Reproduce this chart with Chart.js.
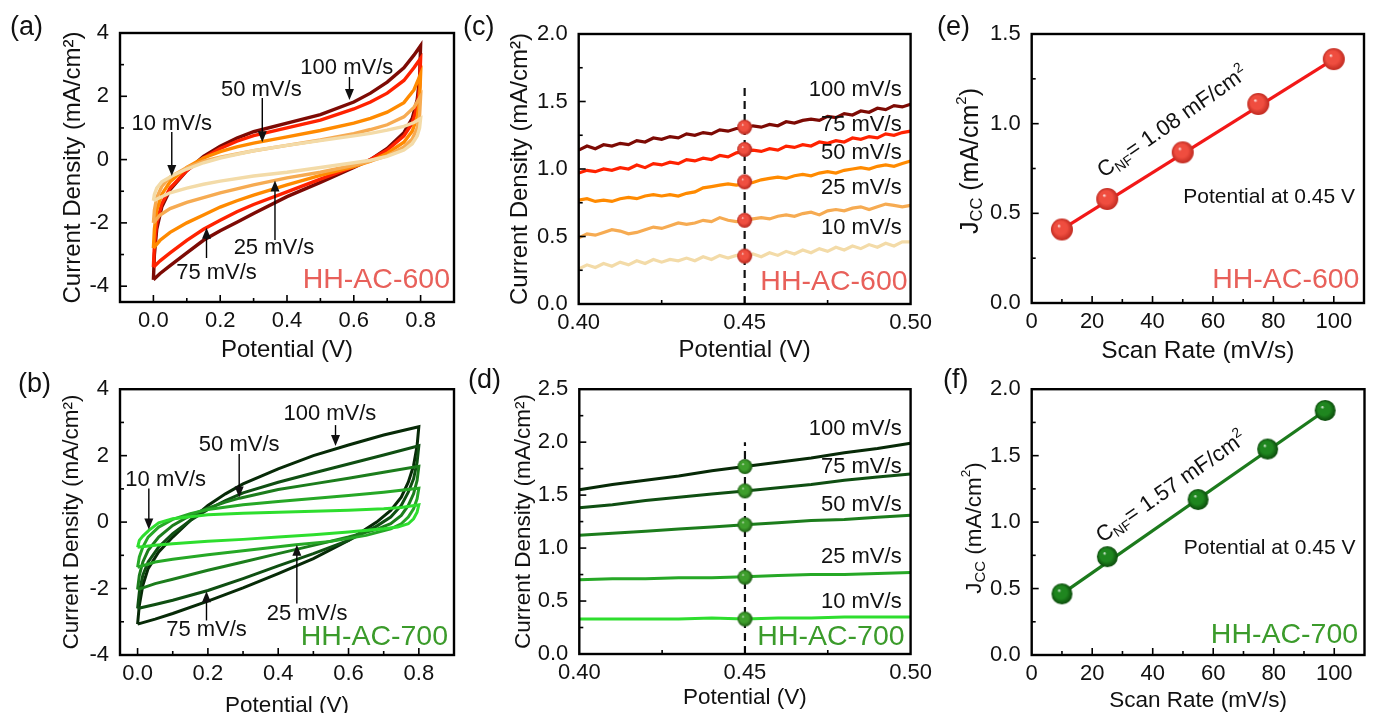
<!DOCTYPE html>
<html>
<head>
<meta charset="utf-8">
<script src="https://cdn.jsdelivr.net/npm/chart.js@4.4.1/dist/chart.umd.min.js"></script>
<style>
html, body { margin: 0; padding: 0; background: #fff; overflow: hidden; width: 1376px; height: 713px; }
canvas { position: absolute; }
</style>
</head>
<body>
<canvas id="pa"></canvas>
<canvas id="pb"></canvas>
<canvas id="pc"></canvas>
<canvas id="pd"></canvas>
<canvas id="pe"></canvas>
<canvas id="pf"></canvas>
<script>
const FONT = "'Liberation Sans', Arial, Helvetica, sans-serif";

// ---- data ----
const rateLabels = ["100 mV/s", "75 mV/s", "50 mV/s", "25 mV/s", "10 mV/s"];
const redShades = ["#7d0a04", "#ff2200", "#ff8a00", "#f6ab52", "#f3dba8"];
const greenShades = ["#072a07", "#0f4f12", "#1c7d1c", "#26a826", "#2ede2e"];

// (a) CV loops, HH-AC-600 : [potential V, current mA/cm2]
const cvA_100 = [[0.000,-3.80],[0.003,-3.00],[0.010,-2.20],[0.025,-1.50],[0.050,-0.95],[0.100,-0.35],[0.150,0.10],[0.200,0.42],[0.250,0.68],[0.300,0.88],[0.400,1.15],[0.500,1.42],[0.600,1.82],[0.650,2.10],[0.700,2.45],[0.750,2.90],[0.780,3.30],[0.800,3.60],
  [0.797,2.60],[0.790,1.90],[0.775,1.30],[0.750,0.85],[0.700,0.35],[0.650,0.00],[0.600,-0.25],[0.500,-0.72],[0.400,-1.17],[0.300,-1.70],[0.250,-1.98],[0.200,-2.25],[0.150,-2.55],[0.100,-2.95],[0.050,-3.35],[0.020,-3.60],[0.000,-3.80]];
const cvA_75 = [[0.000,-3.40],[0.003,-2.70],[0.010,-2.00],[0.025,-1.40],[0.050,-0.90],[0.100,-0.35],[0.150,0.05],[0.200,0.35],[0.250,0.58],[0.300,0.76],[0.400,1.00],[0.500,1.25],[0.600,1.60],[0.650,1.82],[0.700,2.10],[0.750,2.50],[0.780,2.90],[0.800,3.20],
  [0.797,2.30],[0.790,1.70],[0.775,1.15],[0.750,0.75],[0.700,0.30],[0.650,0.00],[0.600,-0.22],[0.500,-0.62],[0.400,-1.02],[0.300,-1.42],[0.250,-1.65],[0.200,-1.92],[0.150,-2.20],[0.100,-2.55],[0.050,-2.95],[0.020,-3.20],[0.000,-3.40]];
const cvA_50 = [[0.000,-2.80],[0.003,-2.20],[0.010,-1.60],[0.025,-1.10],[0.050,-0.70],[0.100,-0.25],[0.150,0.05],[0.200,0.25],[0.250,0.40],[0.300,0.52],[0.400,0.72],[0.500,0.92],[0.600,1.15],[0.650,1.30],[0.700,1.50],[0.750,1.80],[0.780,2.20],[0.800,2.70],
  [0.797,1.90],[0.790,1.35],[0.775,0.90],[0.750,0.55],[0.700,0.20],[0.650,-0.05],[0.600,-0.22],[0.500,-0.50],[0.400,-0.80],[0.300,-1.12],[0.250,-1.30],[0.200,-1.50],[0.150,-1.75],[0.100,-2.00],[0.050,-2.30],[0.020,-2.55],[0.000,-2.80]];
const cvA_25 = [[0.000,-2.00],[0.003,-1.60],[0.010,-1.20],[0.025,-0.85],[0.050,-0.55],[0.100,-0.25],[0.150,-0.05],[0.200,0.08],[0.300,0.28],[0.400,0.45],[0.500,0.62],[0.600,0.82],[0.650,0.95],[0.700,1.10],[0.750,1.35],[0.780,1.65],[0.800,2.00],
  [0.797,1.40],[0.790,1.00],[0.775,0.65],[0.750,0.40],[0.700,0.12],[0.650,-0.05],[0.600,-0.18],[0.500,-0.40],[0.400,-0.58],[0.300,-0.80],[0.200,-1.05],[0.150,-1.20],[0.100,-1.35],[0.050,-1.55],[0.020,-1.75],[0.000,-2.00]];
const cvA_10 = [[0.000,-1.30],[0.003,-1.10],[0.010,-0.90],[0.025,-0.70],[0.055,-0.52],[0.100,-0.30],[0.150,-0.10],[0.200,0.05],[0.300,0.28],[0.400,0.45],[0.500,0.60],[0.600,0.75],[0.650,0.83],[0.700,0.93],[0.750,1.05],[0.780,1.17],[0.800,1.30],
  [0.797,1.00],[0.790,0.75],[0.775,0.50],[0.750,0.30],[0.700,0.10],[0.650,-0.02],[0.600,-0.10],[0.500,-0.25],[0.400,-0.40],[0.300,-0.52],[0.200,-0.68],[0.150,-0.78],[0.100,-0.90],[0.050,-1.05],[0.020,-1.20],[0.000,-1.30]];

// (b) CV loops, HH-AC-700
const cvB_100 = [[0.000,-3.07],[0.005,-2.50],[0.015,-1.90],[0.030,-1.40],[0.060,-0.90],[0.100,-0.45],[0.150,0.05],[0.200,0.50],[0.250,0.85],[0.300,1.15],[0.400,1.60],[0.500,2.00],[0.600,2.32],[0.700,2.62],[0.800,2.87],
  [0.795,2.30],[0.785,1.70],[0.770,1.20],[0.750,0.75],[0.720,0.35],[0.680,0.00],[0.600,-0.55],[0.500,-1.10],[0.400,-1.55],[0.300,-1.98],[0.200,-2.38],[0.100,-2.75],[0.050,-2.92],[0.000,-3.07]];
const cvB_75 = [[0.000,-2.60],[0.005,-2.10],[0.015,-1.60],[0.030,-1.20],[0.060,-0.75],[0.100,-0.35],[0.150,0.05],[0.200,0.38],[0.250,0.65],[0.300,0.88],[0.400,1.20],[0.500,1.48],[0.600,1.75],[0.700,2.02],[0.800,2.30],
  [0.795,1.80],[0.785,1.30],[0.770,0.90],[0.750,0.50],[0.720,0.15],[0.680,-0.12],[0.600,-0.55],[0.500,-0.95],[0.400,-1.32],[0.300,-1.70],[0.200,-2.06],[0.100,-2.35],[0.050,-2.48],[0.000,-2.60]];
const cvB_50 = [[0.000,-2.03],[0.005,-1.60],[0.015,-1.20],[0.030,-0.85],[0.060,-0.45],[0.100,-0.10],[0.150,0.20],[0.200,0.42],[0.250,0.60],[0.290,0.72],[0.400,0.98],[0.500,1.15],[0.600,1.32],[0.700,1.50],[0.800,1.68],
  [0.795,1.25],[0.785,0.85],[0.770,0.50],[0.750,0.20],[0.720,-0.05],[0.680,-0.22],[0.600,-0.45],[0.500,-0.70],[0.400,-0.95],[0.300,-1.20],[0.200,-1.45],[0.100,-1.72],[0.050,-1.85],[0.000,-2.03]];
const cvB_25 = [[0.000,-1.36],[0.005,-1.05],[0.015,-0.75],[0.030,-0.45],[0.060,-0.15],[0.100,0.08],[0.150,0.25],[0.200,0.38],[0.300,0.52],[0.400,0.62],[0.500,0.71],[0.600,0.80],[0.700,0.90],[0.800,1.02],
  [0.795,0.70],[0.785,0.40],[0.770,0.15],[0.750,-0.05],[0.720,-0.20],[0.650,-0.40],[0.550,-0.58],[0.450,-0.68],[0.400,-0.74],[0.300,-0.86],[0.200,-0.98],[0.100,-1.12],[0.050,-1.20],[0.000,-1.36]];
const cvB_10 = [[0.000,-0.76],[0.005,-0.55],[0.015,-0.42],[0.032,-0.25],[0.060,-0.02],[0.100,0.10],[0.200,0.22],[0.300,0.27],[0.400,0.30],[0.500,0.33],[0.600,0.36],[0.700,0.40],[0.750,0.44],[0.800,0.52],
  [0.795,0.30],[0.785,0.10],[0.770,-0.05],[0.740,-0.15],[0.700,-0.20],[0.600,-0.30],[0.500,-0.38],[0.400,-0.45],[0.300,-0.52],[0.200,-0.58],[0.100,-0.65],[0.050,-0.70],[0.000,-0.76]];

// (c) zoomed currents, HH-AC-600
const potC = [0.4000,0.4025,0.4050,0.4075,0.4100,0.4125,0.4150,0.4175,0.4200,0.4225,0.4250,0.4275,0.4300,0.4325,0.4350,0.4375,0.4400,0.4425,0.4450,0.4475,0.4500,
  0.4525,0.4550,0.4575,0.4600,0.4625,0.4650,0.4675,0.4700,0.4725,0.4750,0.4775,0.4800,0.4825,0.4850,0.4875,0.4900,0.4925,0.4950,0.4975,0.5000];
const c100 = [1.14,1.17,1.15,1.18,1.17,1.19,1.18,1.21,1.20,1.23,1.22,1.24,1.23,1.26,1.25,1.27,1.26,1.29,1.28,1.30,1.30,1.32,1.31,1.33,1.32,1.35,1.34,1.36,1.37,1.36,1.39,1.38,1.41,1.40,1.43,1.42,1.45,1.44,1.47,1.46,1.48];
const c75 = [0.97,0.99,0.98,1.00,0.99,1.01,1.00,1.03,1.01,1.04,1.03,1.05,1.04,1.07,1.06,1.08,1.07,1.10,1.09,1.12,1.13,1.14,1.13,1.15,1.14,1.17,1.16,1.18,1.17,1.20,1.19,1.21,1.20,1.23,1.22,1.24,1.23,1.26,1.25,1.27,1.28];
const c50 = [0.77,0.78,0.76,0.77,0.76,0.78,0.79,0.78,0.80,0.81,0.80,0.81,0.80,0.82,0.83,0.86,0.87,0.88,0.89,0.88,0.89,0.90,0.92,0.93,0.94,0.93,0.95,0.96,0.95,0.97,0.98,0.97,0.99,1.00,1.01,1.00,1.02,1.03,1.02,1.04,1.06];
const c25 = [0.49,0.52,0.51,0.53,0.55,0.54,0.52,0.53,0.55,0.57,0.56,0.58,0.60,0.59,0.60,0.62,0.61,0.64,0.62,0.61,0.62,0.63,0.64,0.63,0.65,0.66,0.65,0.67,0.68,0.66,0.69,0.70,0.69,0.71,0.72,0.70,0.72,0.74,0.73,0.72,0.73];
const c10 = [0.26,0.29,0.27,0.30,0.28,0.31,0.29,0.32,0.30,0.33,0.31,0.33,0.32,0.34,0.32,0.35,0.33,0.36,0.34,0.36,0.35,0.37,0.35,0.38,0.36,0.39,0.37,0.40,0.38,0.41,0.39,0.42,0.40,0.43,0.41,0.44,0.42,0.45,0.43,0.46,0.46];
const markC = [1.31, 1.145, 0.905, 0.62, 0.355];
const rateYC = [1.585, 1.326, 1.119, 0.859, 0.563];

// (d) zoomed currents, HH-AC-700
const potD = [0.40,0.41,0.42,0.43,0.44,0.45,0.46,0.47,0.48,0.49,0.50];
const d100 = [1.55,1.60,1.64,1.68,1.73,1.77,1.81,1.85,1.90,1.94,1.99];
const d75 = [1.38,1.41,1.45,1.48,1.51,1.54,1.57,1.60,1.64,1.67,1.70];
const d50 = [1.12,1.14,1.16,1.18,1.20,1.22,1.24,1.26,1.27,1.29,1.31];
const d25 = [0.70,0.71,0.71,0.72,0.72,0.73,0.74,0.75,0.75,0.76,0.77];
const d10 = [0.33,0.33,0.33,0.33,0.34,0.33,0.34,0.34,0.35,0.35,0.35];
const markD = [1.77, 1.54, 1.22, 0.725, 0.33];
const rateYD = [2.123, 1.77, 1.41, 0.918, 0.492];
const markPotential = 0.45;

// (e),(f) Jcc vs scan rate
const scanE = [10, 25, 50, 75, 100];
const jccE = [0.41, 0.58, 0.84, 1.11, 1.36];
const fitE = [[10, 0.41], [100, 1.36]];
const scanF = [10, 25, 55, 78, 97];
const jccF = [0.46, 0.74, 1.17, 1.55, 1.84];
const fitF = [[10, 0.46], [97, 1.84]];

// arrowed labels on the CV panels (data coords)
const notesA = [
  { text: "100 mV/s", x: 0.579, y: 2.89, ax: 0.587, y0: 2.61, y1: 1.88 },
  { text: "50 mV/s", x: 0.323, y: 2.20, ax: 0.326, y0: 1.95, y1: 0.55 },
  { text: "10 mV/s", x: 0.055, y: 1.12, ax: 0.055, y0: 0.87, y1: -0.52 },
  { text: "25 mV/s", x: 0.361, y: -2.79, ax: 0.364, y0: -2.54, y1: -0.66 },
  { text: "75 mV/s", x: 0.189, y: -3.58, ax: 0.159, y0: -3.11, y1: -2.15 }
];
const notesB = [
  { text: "100 mV/s", x: 0.547, y: 3.25, ax: 0.563, y0: 2.92, y1: 2.29 },
  { text: "50 mV/s", x: 0.289, y: 2.32, ax: 0.289, y0: 2.05, y1: 0.74 },
  { text: "10 mV/s", x: 0.080, y: 1.28, ax: 0.032, y0: 1.01, y1: -0.22 },
  { text: "25 mV/s", x: 0.482, y: -2.75, ax: 0.453, y0: -2.45, y1: -0.68 },
  { text: "75 mV/s", x: 0.196, y: -3.25, ax: 0.196, y0: -2.96, y1: -2.08 }
];

// ---- helpers ----
const makeBall = (r, base, edge) => {
  const c = document.createElement("canvas");
  c.width = c.height = 2 * r + 2;
  const g = c.getContext("2d");
  const m = r + 1;
  const grad = g.createRadialGradient(m - r * 0.3, m - r * 0.35, 0, m, m, r);
  grad.addColorStop(0, "#ffffff");
  grad.addColorStop(0.18, base);
  grad.addColorStop(0.6, base);
  grad.addColorStop(1, edge);
  g.fillStyle = grad;
  g.beginPath();
  g.arc(m, m, r, 0, Math.PI * 2);
  g.fill();
  return c;
};

const toXY = (pts) => pts.map(p => ({ x: p[0], y: p[1] }));
const zipXY = (xs, ys) => xs.map((x, i) => ({ x: x, y: ys[i] }));

const lineSet = (data, color, w) => ({
  data: data, showLine: true, borderColor: color, borderWidth: w,
  pointRadius: 0, tension: 0, fill: false
});

const drawSegs = (ctx, segs, x, y, rot, align) => {
  ctx.save();
  ctx.translate(x, y);
  ctx.rotate(rot);
  let total = 0;
  segs.forEach(s => { ctx.font = s.size + "px " + FONT; total += ctx.measureText(s.t).width; });
  let cx = align === "center" ? -total / 2 : 0;
  segs.forEach(s => {
    ctx.font = s.size + "px " + FONT;
    ctx.fillText(s.t, cx, s.dy || 0);
    cx += ctx.measureText(s.t).width;
  });
  ctx.restore();
};

const decoPlugin = (d) => ({
  id: "deco",
  afterDraw(chart) {
    const ctx = chart.ctx, a = chart.chartArea;
    const sx = chart.scales.x, sy = chart.scales.y;
    const px = v => sx.getPixelForValue(v), py = v => sy.getPixelForValue(v);
    ctx.save();
    ctx.strokeStyle = "#000";
    ctx.lineWidth = 1.6;
    sx.ticks.forEach(t => {
      const p = px(t.value);
      if (p <= a.left + 1 || p >= a.right - 1) return;
      const len = t.label ? 7 : 4;
      ctx.beginPath(); ctx.moveTo(p, a.bottom); ctx.lineTo(p, a.bottom - len); ctx.stroke();
    });
    sy.ticks.forEach(t => {
      const p = py(t.value);
      if (p <= a.top + 1 || p >= a.bottom - 1) return;
      const len = t.label ? 7 : 4;
      ctx.beginPath(); ctx.moveTo(a.left, p); ctx.lineTo(a.left + len, p); ctx.stroke();
    });
    ctx.lineWidth = 2.4;
    ctx.strokeRect(a.left, a.top, a.right - a.left, a.bottom - a.top);

    ctx.fillStyle = "#111";
    ctx.textBaseline = "middle";
    ctx.textAlign = "left";
    ctx.font = "27px " + FONT;
    ctx.fillText(d.panel[0], d.panel[1], d.panel[2]);

    ctx.font = "22px " + FONT;
    (d.notes || []).forEach(n => {
      ctx.textAlign = "center";
      ctx.fillText(n.text, px(n.x), py(n.y));
      const x = px(n.ax), y0 = py(n.y0), y1 = py(n.y1);
      const dir = y1 > y0 ? 1 : -1;
      ctx.lineWidth = 1.4;
      ctx.beginPath(); ctx.moveTo(x, y0); ctx.lineTo(x, y1 - dir * 8); ctx.stroke();
      ctx.beginPath(); ctx.moveTo(x, y1); ctx.lineTo(x - 4.5, y1 - dir * 11); ctx.lineTo(x + 4.5, y1 - dir * 11); ctx.closePath(); ctx.fill();
    });
    if (d.rates) {
      ctx.textAlign = "right";
      d.rates.ys.forEach((y, i) => ctx.fillText(rateLabels[i], px(d.rates.x), py(y)));
    }
    if (d.extra) d.extra(ctx, px, py, a);

    ctx.textAlign = "right";
    ctx.fillStyle = d.tag.color;
    ctx.font = "28.5px " + FONT;
    ctx.fillText(d.tag.text, px(d.tag.x), py(d.tag.y));
    ctx.restore();
  }
});

const buildPanel = (id, box, datasets, xs, ys, deco) => {
  const cv = document.getElementById(id);
  const hy = box.ySize * 0.6, hx = box.xSize * 0.6;
  const padLeft = ys.title ? box.yTitleX - hy - box.left : 0;
  const w = Math.round(box.plot[2] - box.left + box.padR);
  const h = Math.round(box.xTitleY + hx - box.top);
  cv.width = w; cv.height = h;
  cv.style.left = box.left + "px";
  cv.style.top = box.top + "px";
  const yW = box.plot[0] - box.left - padLeft;
  const xH = h - (box.plot[3] - box.top);
  const tickFont = { family: FONT, size: 22, lineHeight: 1.2 };
  new Chart(cv, {
    type: "scatter",
    data: { datasets: datasets },
    options: {
      responsive: false,
      animation: false,
      devicePixelRatio: 1,
      layout: { padding: { left: padLeft, top: box.plot[1] - box.top, right: box.padR, bottom: 0 } },
      plugins: { legend: { display: false }, tooltip: { enabled: false } },
      scales: {
        x: {
          type: "linear", min: xs.min, max: xs.max,
          afterFit: s => { s.height = xH; },
          grid: { display: false, drawTicks: false },
          border: { display: false },
          ticks: { stepSize: xs.step, includeBounds: false, autoSkip: false, maxRotation: 0, maxTicksLimit: 100,
                   padding: 6, color: "#111", font: tickFont, callback: xs.fmt },
          title: { display: true, text: xs.title, color: "#111", padding: 0,
                   font: { family: FONT, size: box.xSize, lineHeight: 1.2 } }
        },
        y: {
          type: "linear", min: ys.min, max: ys.max,
          afterFit: s => { s.width = yW; },
          grid: { display: false, drawTicks: false },
          border: { display: false },
          ticks: { stepSize: ys.step, includeBounds: false, autoSkip: false, maxTicksLimit: 100,
                   padding: 11, color: "#111", font: tickFont, callback: ys.fmt },
          title: { display: !!ys.title, text: ys.title || "", color: "#111", padding: 0,
                   font: { family: FONT, size: box.ySize, lineHeight: 1.2 } }
        }
      }
    },
    plugins: [decoPlugin(deco)]
  });
};

// tick label formats
const fmtCvY = v => (Math.round(v) % 2 === 0 ? String(Math.round(v)) : "");
const fmtCvX = v => { const k = Math.round(v * 10); return (k >= 0 && k <= 8 && k % 2 === 0) ? (k / 10).toFixed(1) : ""; };
const fmtPotX = v => { const k = Math.round(v * 1000); return k % 50 === 0 ? (k / 1000).toFixed(2) : ""; };
const fmtHalf = v => { const k = Math.round(v * 100); return k % 50 === 0 ? (k / 100).toFixed(1) : ""; };
const fmtRate = v => (Math.round(v) % 20 === 0 && v <= 100 ? String(Math.round(v)) : "");

const CD = "Current Density (mA/cm²)";

// ---- (a) ----
const loopsA = [cvA_100, cvA_75, cvA_50, cvA_25, cvA_10];
buildPanel("pa",
  { left: 0, top: 0, plot: [120, 33, 456, 302], yTitleX: 73, xTitleY: 351, padR: 4, xSize: 24, ySize: 24 },
  loopsA.map((l, i) => lineSet(toXY(l), redShades[i], 3.4)).reverse(),
  { min: -0.1, max: 0.9, step: 0.1, fmt: fmtCvX, title: "Potential (V)" },
  { min: -4.5, max: 4, step: 1, fmt: fmtCvY, title: CD },
  { panel: ["(a)", 10, 28], notes: notesA, tag: { text: "HH-AC-600", color: "#e8605a", x: 0.888, y: -3.80 } });

// ---- (b) ----
const loopsB = [cvB_100, cvB_75, cvB_50, cvB_25, cvB_10];
buildPanel("pb",
  { left: 0, top: 365, plot: [120, 386.7, 456, 655], yTitleX: 72, xTitleY: 705, padR: 4, xSize: 22.5, ySize: 22.5 },
  loopsB.map((l, i) => lineSet(toXY(l), greenShades[i], 3)).reverse(),
  { min: -0.05, max: 0.9, step: 0.1, fmt: fmtCvX, title: "Potential (V)" },
  { min: -4, max: 4, step: 1, fmt: fmtCvY, title: CD },
  { panel: ["(b)", 18, 19.5], notes: notesB, tag: { text: "HH-AC-700", color: "#3b9b2b", x: 0.883, y: -3.46 } });

// ---- (c) ----
const ballC = makeBall(7.5, "#ef4f40", "#b4261c");
const linesC = [c100, c75, c50, c25, c10].map((ys, i) => lineSet(zipXY(potC, ys), redShades[i], 3.2)).reverse();
buildPanel("pc",
  { left: 450, top: 0, plot: [578.7, 34, 914, 304], yTitleX: 520, xTitleY: 351, padR: 24, xSize: 24, ySize: 24 },
  [{ data: markC.map(y => ({ x: markPotential, y: y })), showLine: false, pointStyle: ballC, pointRadius: 7.5 },
   { data: [{ x: markPotential, y: 0 }, { x: markPotential, y: 1.62 }], showLine: true, borderColor: "#111",
     borderWidth: 2.2, borderDash: [8, 5], pointRadius: 0 }].concat(linesC),
  { min: 0.4, max: 0.5, step: 0.025, fmt: fmtPotX, title: "Potential (V)" },
  { min: 0, max: 2, step: 0.25, fmt: fmtHalf, title: CD },
  { panel: ["(c)", 13, 28], rates: { x: 0.4973, ys: rateYC }, tag: { text: "HH-AC-600", color: "#e8605a", x: 0.4991, y: 0.163 } });

// ---- (d) ----
const ballD = makeBall(7.5, "#3e9e2c", "#1b5a12");
const linesD = [d100, d75, d50, d25, d10].map((ys, i) => lineSet(zipXY(potD, ys), greenShades[i], 3)).reverse();
buildPanel("pd",
  { left: 450, top: 365, plot: [579.3, 384.3, 914, 654], yTitleX: 524, xTitleY: 697, padR: 24, xSize: 22.5, ySize: 22.5 },
  [{ data: markD.map(y => ({ x: markPotential, y: y })), showLine: false, pointStyle: ballD, pointRadius: 7.5 },
   { data: [{ x: markPotential, y: 0 }, { x: markPotential, y: 2.0 }], showLine: true, borderColor: "#111",
     borderWidth: 2.2, borderDash: [8, 5], pointRadius: 0 }].concat(linesD),
  { min: 0.4, max: 0.5, step: 0.025, fmt: fmtPotX, title: "Potential (V)" },
  { min: 0, max: 2.5, step: 0.25, fmt: fmtHalf, title: CD },
  { panel: ["(d)", 18, 16], rates: { x: 0.4973, ys: rateYD }, tag: { text: "HH-AC-700", color: "#3b9b2b", x: 0.4982, y: 0.158 } });

// ---- (e) ----
const ballE = makeBall(11, "#ef4d3f", "#c02a20");
const jccTitle = (size, cx, cy) => (ctx) => {
  ctx.fillStyle = "#111";
  ctx.textBaseline = "middle";
  drawSegs(ctx, [{ t: "J", size: size }, { t: "CC", size: size * 0.66, dy: size * 0.25 },
    { t: " (mA/cm", size: size }, { t: "2", size: size * 0.6, dy: -size * 0.38 }, { t: ")", size: size }],
    cx, cy, -Math.PI / 2, "center");
};
const slopeText = (val) => [{ t: "C", size: 22 }, { t: "NF", size: 14, dy: 4 }, { t: "= " + val + " mF/cm", size: 22 }, { t: "2", size: 14, dy: -9 }];
const extraE = (ctx, px, py) => {
  jccTitle(25, 51, 161)(ctx);
  ctx.fillStyle = "#111";
  ctx.textBaseline = "alphabetic";
  drawSegs(ctx, slopeText("1.08"), px(23.8), py(0.695), -35 * Math.PI / 180, "left");
  ctx.textBaseline = "middle";
  ctx.textAlign = "right";
  ctx.font = "21px " + FONT;
  ctx.fillText("Potential at 0.45 V", px(107), py(0.59));
};
buildPanel("pe",
  { left: 920, top: 0, plot: [1031.7, 34, 1366.7, 303], yTitleX: 971, xTitleY: 351, padR: 9.3, xSize: 24.5, ySize: 25 },
  [{ data: zipXY(scanE, jccE), showLine: false, pointStyle: ballE, pointRadius: 11 },
   lineSet(toXY(fitE), "#f21818", 3.2)],
  { min: 0, max: 110, step: 10, fmt: fmtRate, title: "Scan Rate (mV/s)" },
  { min: 0, max: 1.5, step: 0.25, fmt: fmtHalf, title: null },
  { panel: ["(e)", 17, 27.5], extra: extraE, tag: { text: "HH-AC-600", color: "#e8605a", x: 108.5, y: 0.128 } });

// ---- (f) ----
const ballF = makeBall(10.5, "#1f861f", "#0b4a0b");
const extraF = (ctx, px, py) => {
  jccTitle(22.5, 55, 163)(ctx);
  ctx.fillStyle = "#111";
  ctx.textBaseline = "alphabetic";
  drawSegs(ctx, slopeText("1.57"), px(23.3), py(0.84), -35 * Math.PI / 180, "left");
  ctx.textBaseline = "middle";
  ctx.textAlign = "right";
  ctx.font = "21px " + FONT;
  ctx.fillText("Potential at 0.45 V", px(107), py(0.80));
};
buildPanel("pf",
  { left: 920, top: 365, plot: [1031.7, 385.7, 1366.7, 655], yTitleX: 975, xTitleY: 700, padR: 9.3, xSize: 22.5, ySize: 22.5 },
  [{ data: zipXY(scanF, jccF), showLine: false, pointStyle: ballF, pointRadius: 10.5 },
   lineSet(toXY(fitF), "#1c7a1c", 3.2)],
  { min: 0, max: 110, step: 10, fmt: fmtRate, title: "Scan Rate (mV/s)" },
  { min: 0, max: 2, step: 0.25, fmt: fmtHalf, title: null },
  { panel: ["(f)", 23, 16], extra: extraF, tag: { text: "HH-AC-700", color: "#3b9b2b", x: 107.9, y: 0.149 } });
</script>
</body>
</html>
